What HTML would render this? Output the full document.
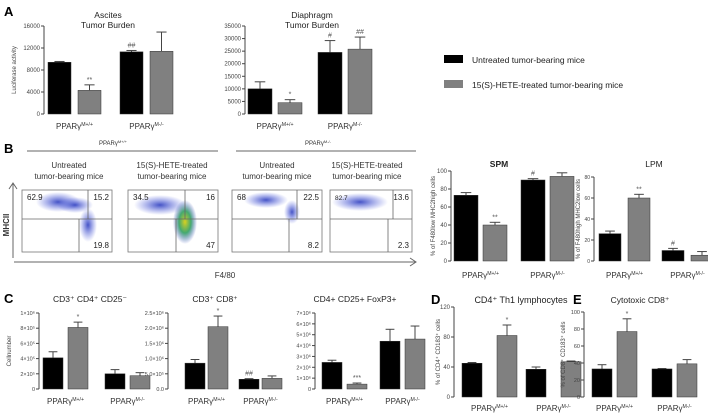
<!DOCTYPE html>
<html><head><meta charset="utf-8"><style>
html,body{margin:0;padding:0;background:#fff}
svg{display:block;font-family:"Liberation Sans",sans-serif}
</style></head><body>
<svg id="fig" width="708" height="417" viewBox="0 0 708 417" xmlns="http://www.w3.org/2000/svg">
<defs>
<radialGradient id="dens" cx="50%" cy="50%" r="50%"><stop offset="0" stop-color="#3040c0" stop-opacity="0.9"/><stop offset="1" stop-color="#5060e0" stop-opacity="0"/></radialGradient>
<radialGradient id="hot" cx="50%" cy="50%" r="50%"><stop offset="0" stop-color="#d8d020"/><stop offset="0.5" stop-color="#30a060" stop-opacity="0.9"/><stop offset="1" stop-color="#3040c0" stop-opacity="0"/></radialGradient>
</defs>
<g id="static" font-size="9" fill="#333">
<text x="4" y="16" font-size="13" font-weight="bold" fill="#000">A</text>
<text x="4" y="153" font-size="13" font-weight="bold" fill="#000">B</text>
<text x="4" y="303" font-size="13" font-weight="bold" fill="#000">C</text>
<text x="431" y="304" font-size="13" font-weight="bold" fill="#000">D</text>
<text x="573" y="304" font-size="13" font-weight="bold" fill="#000">E</text>
<g>
<rect x="444" y="55" width="19" height="8" fill="#000"/>
<text x="472" y="63" font-size="8.5" fill="#222">Untreated tumor-bearing mice</text>
<rect x="444" y="80" width="19" height="8" fill="#808080"/>
<text x="472" y="88" font-size="8.5" fill="#222">15(S)-HETE-treated  tumor-bearing mice</text>
</g>
<text x="113" y="145" font-size="6" text-anchor="middle">PPARγ<tspan font-size="4" dy="-2">M+/+</tspan></text>
<text x="318" y="145" font-size="6" text-anchor="middle">PPARγ<tspan font-size="4" dy="-2">M-/-</tspan></text>
<g stroke="#666" fill="none">
<line x1="27" y1="151" x2="218" y2="151"/>
<line x1="236" y1="151" x2="416" y2="151"/>
<line x1="14" y1="262" x2="416" y2="262"/>
<polyline points="410,258 416,262 410,266" />
<line x1="13" y1="258" x2="13" y2="183"/>
<polyline points="9,189 13,183 17,189"/>
</g>
<text transform="translate(9,225) rotate(-90)" font-size="8" font-weight="bold" text-anchor="middle">MHCII</text>
<text x="225" y="278" font-size="8" text-anchor="middle">F4/80</text>
<g font-size="8" text-anchor="middle" fill="#333">
<text x="69" y="168">Untreated<tspan x="69" dy="11">tumor-bearing mice</tspan></text>
<text x="172" y="168">15(S)-HETE-treated<tspan x="172" dy="11">tumor-bearing mice</tspan></text>
<text x="277" y="168">Untreated<tspan x="277" dy="11">tumor-bearing mice</tspan></text>
<text x="367" y="168">15(S)-HETE-treated<tspan x="367" dy="11">tumor-bearing mice</tspan></text>
</g>
<g id="flow"></g>
</g>
<g id="charts"></g>
</svg>
<script>
const groupLabels = ["M+/+", "M-/-"];
const ascitesValues = [9400, 4300, 11300, 11400];
const ascitesErrors = [150, 1000, 250, 3500];
const ascitesMarks = ["", "**", "##", ""];
const ascitesTicks = [0, 4000, 8000, 12000, 16000];
const diaphValues = [10000, 4500, 24500, 25800];
const diaphErrors = [2800, 1200, 4700, 4800];
const diaphMarks = ["", "*", "#", "##"];
const diaphTicks = [0, 5000, 10000, 15000, 20000, 25000, 30000, 35000];
const spmValues = [73, 40, 90, 94];
const spmErrors = [3, 3, 1.5, 4];
const spmMarks = ["", "**", "#", ""];
const spmTicks = [0, 20, 40, 60, 80, 100];
const lpmValues = [26, 60, 10, 5.5];
const lpmErrors = [2.5, 3.5, 2, 3.5];
const lpmMarks = ["", "**", "#", ""];
const lpmTicks = [0, 20, 40, 60, 80];
const cd4Values = [4.1e5, 8.1e5, 2.0e5, 1.75e5];
const cd4Errors = [0.8e5, 0.7e5, 0.55e5, 0.4e5];
const cd4Marks = ["", "*", "", ""];
const cd4Ticks = [0, 2e5, 4e5, 6e5, 8e5, 1e6];
const cd4TickLabels = ["0", "2×10⁵", "4×10⁵", "6×10⁵", "8×10⁵", "1×10⁶"];
const cd8Values = [0.85e6, 2.05e6, 0.32e6, 0.35e6];
const cd8Errors = [0.12e6, 0.35e6, 0.02e6, 0.08e6];
const cd8Marks = ["", "*", "##", ""];
const cd8Ticks = [0, 0.5e6, 1e6, 1.5e6, 2e6, 2.5e6];
const cd8TickLabels = ["0.0", "5.0×10⁵", "1.0×10⁶", "1.5×10⁶", "2.0×10⁶", "2.5×10⁶"];
const tregValues = [2.45e6, 0.45e6, 4.4e6, 4.6e6];
const tregErrors = [0.2e6, 0.1e6, 1.1e6, 1.2e6];
const tregMarks = ["", "***", "", ""];
const tregTicks = [0, 1e6, 2e6, 3e6, 4e6, 5e6, 6e6, 7e6];
const tregTickLabels = ["0", "1×10⁶", "2×10⁶", "3×10⁶", "4×10⁶", "5×10⁶", "6×10⁶", "7×10⁶"];
const th1Values = [45, 82, 37, 47];
const th1Errors = [1, 14, 3, 1];
const th1Marks = ["", "*", "", ""];
const th1Ticks = [0, 40, 80, 120];
const ctlValues = [33, 77, 33, 39];
const ctlErrors = [5, 15, 0.5, 5];
const ctlMarks = ["", "*", "", ""];
const ctlTicks = [0, 20, 40, 60, 80, 100];
const flowUL = ["62.9", "34.5", "68", "82.7"];
const flowUR = ["15.2", "16", "22.5", "13.6"];
const flowLR = ["19.8", "47", "8.2", "2.3"];

const NS = "http://www.w3.org/2000/svg";
function mk(tag, attrs, parent) {
  const e = document.createElementNS(NS, tag);
  for (const k in attrs) e.setAttribute(k, attrs[k]);
  parent.appendChild(e);
  return e;
}
function pparLabel(parent, x, y, sup, fs) {
  const t = mk("text", {x: x, y: y, "font-size": fs, "text-anchor": "middle", fill: "#333"}, parent);
  t.appendChild(document.createTextNode("PPARγ"));
  const s = mk("tspan", {"font-size": fs * 0.65, dy: -fs * 0.4}, t);
  s.textContent = sup;
  return t;
}
const root = document.getElementById("charts");
function chart(c, values, errors, marks, ticks, tickLabels) {
  const g = mk("g", {}, root);
  
  
  const yS = v => c.y0 - (v / c.max) * (c.y0 - c.yTop);
  const xS = i => c.ax + c.pad + i * (c.bw + c.gap) + (i >= 2 ? c.ggap : 0);
  const ax = mk("line", {x1: c.ax, y1: c.yTop, x2: c.ax, y2: c.y0, stroke: "#444", "stroke-width": 1}, g);
  
  
  ticks.forEach((t, i) => {
    const y = yS(t);
    mk("line", {x1: c.ax - 3, y1: y, x2: c.ax, y2: y, stroke: "#444"}, g);
    const tl = mk("text", {x: c.ax - 4, y: y + 2, "font-size": c.tfs || 6, "text-anchor": "end", fill: "#444"}, g);
    tl.textContent = tickLabels ? tickLabels[i] : String(t);
    
    
  });
  values.forEach((v, i) => {
    const x = xS(i), y = yS(v), ye = yS(v + errors[i]), cx = x + c.bw / 2;
    mk("line", {x1: cx, y1: y, x2: cx, y2: ye, stroke: "#444"}, g);
    mk("line", {x1: cx - c.bw * 0.22, y1: ye, x2: cx + c.bw * 0.22, y2: ye, stroke: "#444"}, g);
    const r = mk("rect", {x: x, y: y, width: c.bw, height: c.y0 - y, fill: i % 2 ? "#808080" : "#000", stroke: "#333", "stroke-width": 0.5}, g);
    
    
    if (marks[i]) {
      const m = mk("text", {x: cx, y: ye - 3, "font-size": 7, "text-anchor": "middle", fill: "#555"}, g);
      m.textContent = marks[i];
    }
  });
  groupLabels.forEach((lab, gi) => {
    const cx = (xS(gi * 2) + xS(gi * 2 + 1) + c.bw) / 2;
    const t = pparLabel(g, cx, c.y0 + c.ly, lab, c.lfs || 8);
    
    
  });
  c.title.forEach((tx, i) => {
    const t = mk("text", {x: c.tx, y: c.ty + i * 10, "font-size": c.titfs || 8.5, "text-anchor": "middle", fill: "#222", "font-weight": c.bold ? "bold" : "normal"}, g);
    t.textContent = tx;
    
    
  });
  if (c.ytitle) {
    const t = mk("text", {transform: `translate(${c.ytx},${(c.y0 + c.yTop) / 2}) rotate(-90)`, "font-size": 6, "text-anchor": "middle", fill: "#444"}, g);
    t.textContent = c.ytitle;
    
    
  }
}
chart({name:"ascites-chart", ax:44, y0:114, yTop:26, max:16000, pad:4, bw:23, gap:7, ggap:12, ly:15, tx:108, ty:18, title:["Ascites","Tumor Burden"], ytitle:"Luciferase activity", ytx:16}, ascitesValues, ascitesErrors, ascitesMarks, ascitesTicks);
chart({name:"diaphragm-chart", ax:245, y0:114, yTop:26, max:35000, pad:3, bw:24, gap:6, ggap:10, ly:15, tx:312, ty:18, title:["Diaphragm","Tumor Burden"]}, diaphValues, diaphErrors, diaphMarks, diaphTicks);
chart({name:"spm-chart", ax:451, y0:261, yTop:171, max:100, pad:3, bw:24, gap:5, ggap:9, ly:17, tx:499, ty:167, title:["SPM"], bold:true, ytitle:"% of F480low MHC2high cells", ytx:435}, spmValues, spmErrors, spmMarks, spmTicks);
chart({name:"lpm-chart", ax:594, y0:261, yTop:177, max:80, pad:5, bw:22, gap:7, ggap:5, ly:17, tx:654, ty:167, title:["LPM"], ytitle:"% of F480high MHC2low cells", ytx:580, tfs:5}, lpmValues, lpmErrors, lpmMarks, lpmTicks);
chart({name:"cd4-chart", ax:39, y0:389, yTop:313, max:1e6, pad:4, bw:20, gap:5, ggap:12, ly:15, tx:90, ty:302, title:["CD3⁺ CD4⁺ CD25⁻"], ytitle:"Cellnumber", ytx:11, tfs:5.5}, cd4Values, cd4Errors, cd4Marks, cd4Ticks, cd4TickLabels);
chart({name:"cd8-chart", ax:168, y0:389, yTop:313, max:2.5e6, pad:17, bw:20, gap:3, ggap:8, ly:15, tx:215, ty:302, title:["CD3⁺ CD8⁺"], tfs:5.5}, cd8Values, cd8Errors, cd8Marks, cd8Ticks, cd8TickLabels);
chart({name:"treg-chart", ax:315, y0:389, yTop:313, max:7e6, pad:7, bw:20, gap:5, ggap:8, ly:15, tx:355, ty:302, title:["CD4+ CD25+ FoxP3+"], tfs:5.5}, tregValues, tregErrors, tregMarks, tregTicks, tregTickLabels);
chart({name:"th1-chart", ax:454, y0:397, yTop:307, max:120, pad:8, bw:20, gap:15, ggap:-6, ly:14, tx:521, ty:303, title:["CD4⁺ Th1 lymphocytes"], ytitle:"% of CD4⁺ CD183⁺ cells", ytx:440, titfs:9}, th1Values, th1Errors, th1Marks, th1Ticks);
chart({name:"ctl-chart", ax:584, y0:397, yTop:312, max:100, pad:8, bw:20, gap:5, ggap:10, ly:14, tx:640, ty:303, title:["Cytotoxic CD8⁺"], ytitle:"% of CD8⁺ CD183⁺ cells", ytx:565, tfs:5.5}, ctlValues, ctlErrors, ctlMarks, ctlTicks);

const flow = document.getElementById("flow");
const plots = [[22,112,88,79],[128,218,185,176],[232,322,297,289],[330,412,393,388]];
const clouds = [
  [[58,202,22,10,"dens"],[88,225,9,17,"dens"],[75,205,18,8,"dens"]],
  [[160,205,26,10,"dens"],[185,222,12,22,"hot"]],
  [[266,200,22,8,"dens"],[292,212,8,12,"dens"]],
  [[360,202,28,9,"dens"]]
];
plots.forEach((p, i) => {
  const g = mk("g", {}, flow);
  
  
  mk("rect", {x: p[0], y: 190, width: p[1] - p[0], height: 62, fill: "#fff", stroke: "#777", "stroke-width": 0.8}, g);
  clouds[i].forEach(c => mk("ellipse", {cx: c[0], cy: c[1], rx: c[2], ry: c[3], fill: `url(#${c[4]})`}, g));
  mk("line", {x1: p[0], y1: 219, x2: p[1], y2: 219, stroke: "#666", "stroke-width": 0.8}, g);
  mk("line", {x1: p[2], y1: 190, x2: p[2], y2: 219, stroke: "#666", "stroke-width": 0.8}, g);
  mk("line", {x1: p[3], y1: 219, x2: p[3], y2: 252, stroke: "#666", "stroke-width": 0.8}, g);
  const a = mk("text", {x: p[0] + 5, y: 200, "font-size": i == 3 ? 6.5 : 8, fill: "#222"}, g); a.textContent = flowUL[i];
  const b = mk("text", {x: p[1] - 3, y: 200, "font-size": 8, fill: "#222", "text-anchor": "end"}, g); b.textContent = flowUR[i];
  const d = mk("text", {x: p[1] - 3, y: 248, "font-size": 8, fill: "#222", "text-anchor": "end"}, g); d.textContent = flowLR[i];
});
</script>
</body></html>
